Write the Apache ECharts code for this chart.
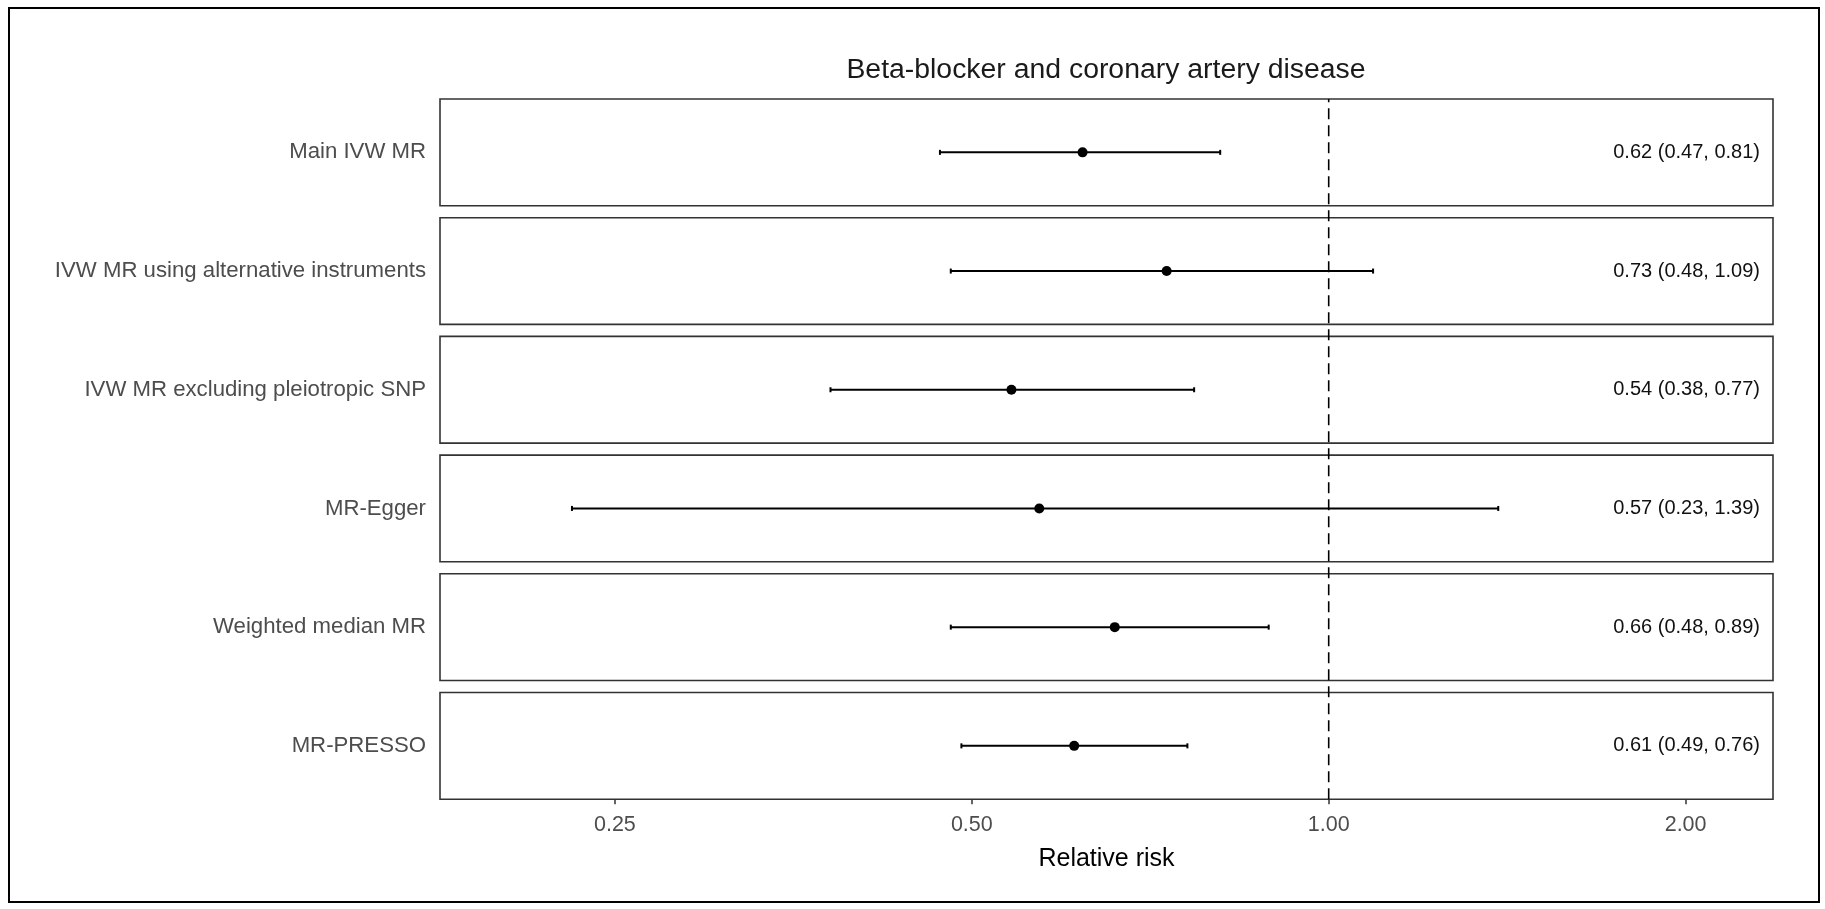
<!DOCTYPE html>
<html>
<head>
<meta charset="utf-8">
<title>Beta-blocker and coronary artery disease</title>
<script src="https://cdn.jsdelivr.net/npm/echarts@6/dist/echarts.min.js"></script>
<style>
  html, body { margin: 0; padding: 0; background: #fff; }
  #chart { width: 1825px; height: 909px; }
</style>
</head>
<body>
<div id="chart"></div>
<script>
// relative risk with 95% CI, one panel per method
const methods = [
  'Main IVW MR',
  'IVW MR using alternative instruments',
  'IVW MR excluding pleiotropic SNP',
  'MR-Egger',
  'Weighted median MR',
  'MR-PRESSO'
];
const estimate = [0.62, 0.73, 0.54, 0.57, 0.66, 0.61];
const lower = [0.47, 0.48, 0.38, 0.23, 0.48, 0.49];
const upper = [0.81, 1.09, 0.77, 1.39, 0.89, 0.76];
const tickValues = [0.25, 0.5, 1, 2];
const refLine = 1;
const axisRange = [0.178, 2.37];

const FONT = '"Liberation Sans", Arial, sans-serif';
const plotLeft = 440;
const plotWidth = 1333;
const plotTop = 99;
const panelH = 106.7;
const panelGap = 12;

const l2 = v => Math.log2(v);
const xMin = l2(axisRange[0]);
const xMax = l2(axisRange[1]);

const grids = [];
const xAxes = [];
const yAxes = [];
const series = [];

methods.forEach((m, i) => {
  grids.push({
    left: plotLeft,
    width: plotWidth,
    top: plotTop + i * (panelH + panelGap),
    height: panelH,
    show: true,
    borderColor: '#333',
    borderWidth: 1.6,
    backgroundColor: '#fff'
  });
  xAxes.push({gridIndex: i, type: 'value', min: xMin, max: xMax, show: false});
  yAxes.push({
    gridIndex: i,
    type: 'category',
    data: [m],
    axisLine: {show: false},
    axisTick: {show: false},
    axisLabel: {fontSize: 22.2, color: '#4d4d4d', margin: 14, fontFamily: FONT}
  });
  const label = estimate[i].toFixed(2) + ' (' + lower[i].toFixed(2) + ', ' + upper[i].toFixed(2) + ')';
  series.push({
    type: 'custom',
    xAxisIndex: i,
    yAxisIndex: i,
    z: 5,
    data: [[l2(lower[i]), l2(upper[i]), l2(estimate[i]), 0]],
    encode: {x: [0, 1, 2], y: 3},
    renderItem: (params, api) => {
      const pLo = api.coord([api.value(0), api.value(3)]);
      const pHi = api.coord([api.value(1), api.value(3)]);
      const pEst = api.coord([api.value(2), api.value(3)]);
      const cs = params.coordSys;
      const st = {stroke: '#000', lineWidth: 2};
      const cap = 2.5;
      return {
        type: 'group',
        children: [
          {type: 'line', shape: {x1: pLo[0], y1: pLo[1], x2: pHi[0], y2: pHi[1]}, style: st},
          {type: 'line', shape: {x1: pLo[0], y1: pLo[1] - cap, x2: pLo[0], y2: pLo[1] + cap}, style: st},
          {type: 'line', shape: {x1: pHi[0], y1: pHi[1] - cap, x2: pHi[0], y2: pHi[1] + cap}, style: st},
          {type: 'circle', shape: {cx: pEst[0], cy: pEst[1], r: 5}, style: {fill: '#000'}},
          {
            type: 'text',
            x: cs.x + cs.width - 13,
            y: pEst[1],
            style: {text: label, align: 'right', verticalAlign: 'middle', fontSize: 20, fill: '#111', fontFamily: FONT}
          }
        ]
      };
    }
  });
});

// overlay grid spanning all panels: reference line + shared x axis
const ov = methods.length;
grids.push({left: plotLeft, width: plotWidth, top: plotTop, height: ov * panelH + (ov - 1) * panelGap});
xAxes.push({
  gridIndex: ov,
  type: 'value',
  min: xMin,
  max: xMax,
  axisLine: {show: false},
  splitLine: {show: false},
  axisTick: {show: true, customValues: tickValues.map(l2), length: 5, lineStyle: {color: '#333', width: 1.5}},
  axisLabel: {
    customValues: tickValues.map(l2),
    formatter: v => Math.pow(2, v).toFixed(2),
    margin: 15,
    fontSize: 21.5,
    color: '#4d4d4d',
    fontFamily: FONT
  },
  name: 'Relative risk',
  nameLocation: 'middle',
  nameGap: 47,
  nameTextStyle: {fontSize: 25, color: '#000', fontFamily: FONT}
});
yAxes.push({gridIndex: ov, type: 'value', min: 0, max: 1, show: false});
series.push({
  type: 'line',
  xAxisIndex: ov,
  yAxisIndex: ov,
  z: 4,
  silent: true,
  symbol: 'none',
  data: [[l2(refLine), 0], [l2(refLine), 1]],
  lineStyle: {color: '#000', width: 1.6, type: [11, 6]}
});

const chart = echarts.init(document.getElementById('chart'));
chart.setOption({
  animation: false,
  backgroundColor: '#fff',
  title: {
    text: 'Beta-blocker and coronary artery disease',
    left: 1106,
    top: 56,
    padding: 0,
    textAlign: 'center',
    textStyle: {fontSize: 28.4, fontWeight: 'normal', color: '#1a1a1a', fontFamily: FONT}
  },
  graphic: [{
    type: 'rect',
    shape: {x: 9, y: 8, width: 1810, height: 894},
    style: {fill: 'none', stroke: '#000', lineWidth: 2},
    silent: true
  }],
  grid: grids,
  xAxis: xAxes,
  yAxis: yAxes,
  series: series
});
</script>
</body>
</html>
